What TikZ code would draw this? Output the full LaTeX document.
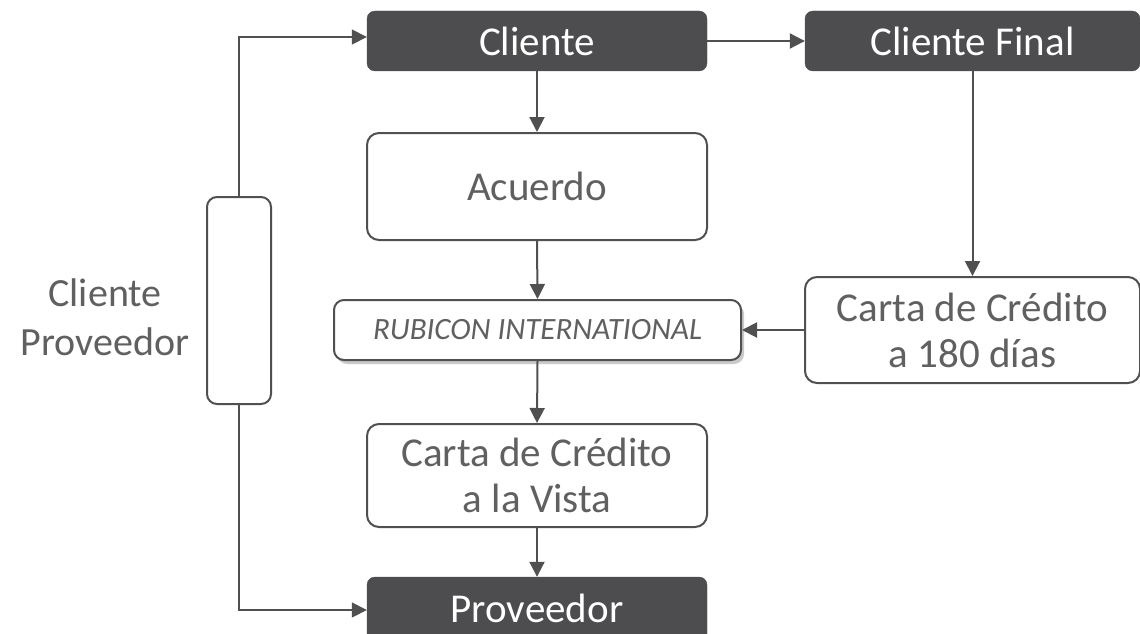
\documentclass[tikz,border=0pt]{standalone}
\usepackage{fontspec}
\setmainfont{Carlito}
\usetikzlibrary{arrows.meta,shadows}
\definecolor{darkbox}{RGB}{77,77,79}
\definecolor{txtgray}{RGB}{96,96,96}
\definecolor{linegray}{RGB}{80,80,80}
\tikzset{
  darknode/.style={draw=darkbox, fill=darkbox, rounded corners=8pt, inner sep=0pt, text=white,
    font=\fontsize{41}{48}\selectfont},
  whitenode/.style={draw=linegray, line width=2pt, fill=white, rounded corners=12pt, inner sep=0pt,
    text=txtgray, align=center, font=\fontsize{41}{46}\selectfont},
  conn/.style={draw=linegray, line width=2pt, -{Triangle[length=15pt,width=15pt]}},
}
\begin{document}
\begin{tikzpicture}[x=1pt,y=-1pt]
\useasboundingbox (0,0) rectangle (1140,634);
\node[darknode, minimum width=340pt, minimum height=60pt] (cli) at (537,41) {Cliente};
\node[darknode, minimum width=335pt, minimum height=60pt] (clf) at (972.5,41) {Cliente Final};
\node[whitenode, minimum width=340pt, minimum height=107pt] (acu) at (537,186.5) {Acuerdo};
\node[whitenode, minimum width=407pt, minimum height=60pt, rounded corners=10pt,
  drop shadow={shadow xshift=3pt, shadow yshift=-4pt, opacity=0.35, fill=black!60},
  font=\fontsize{31}{36}\selectfont\itshape] (rub) at (537.5,330) {RUBICON INTERNATIONAL};
\node[whitenode, minimum width=335pt, minimum height=106pt] (c180) at (972.5,330) {Carta de Crédito\\a 180 días};
\node[whitenode, minimum width=340pt, minimum height=103pt] (cvis) at (537,475.5) {Carta de Crédito\\a la Vista};
\node[darknode, minimum width=340pt, minimum height=66pt] (prov) at (537,610) {\raisebox{4pt}{Proveedor}};
\node[draw=linegray, line width=2pt, rounded corners=10pt, minimum width=64pt, minimum height=207pt, inner sep=0pt] (lb) at (239,300.5) {};
\node[text=txtgray, align=center, font=\fontsize{40}{49}\selectfont] (lt) at (105,317) {Cliente\\Proveedor};
\draw[conn] (cli.east) -- (clf.west);
\draw[conn] (cli.south) -- (acu.north);
\draw[conn] (acu.south) -- (rub.north);
\draw[conn] (rub.south) -- (cvis.north);
\draw[conn] (cvis.south) -- (prov.north);
\draw[conn] (clf.south) -- (c180.north);
\draw[conn] (c180.west) -- (rub.east);
\draw[conn, line width=1.6pt] (lb.north) |- ([yshift=4pt]cli.west);
\draw[conn, line width=1.6pt] (lb.south) |- (prov.west);
\end{tikzpicture}
\end{document}
